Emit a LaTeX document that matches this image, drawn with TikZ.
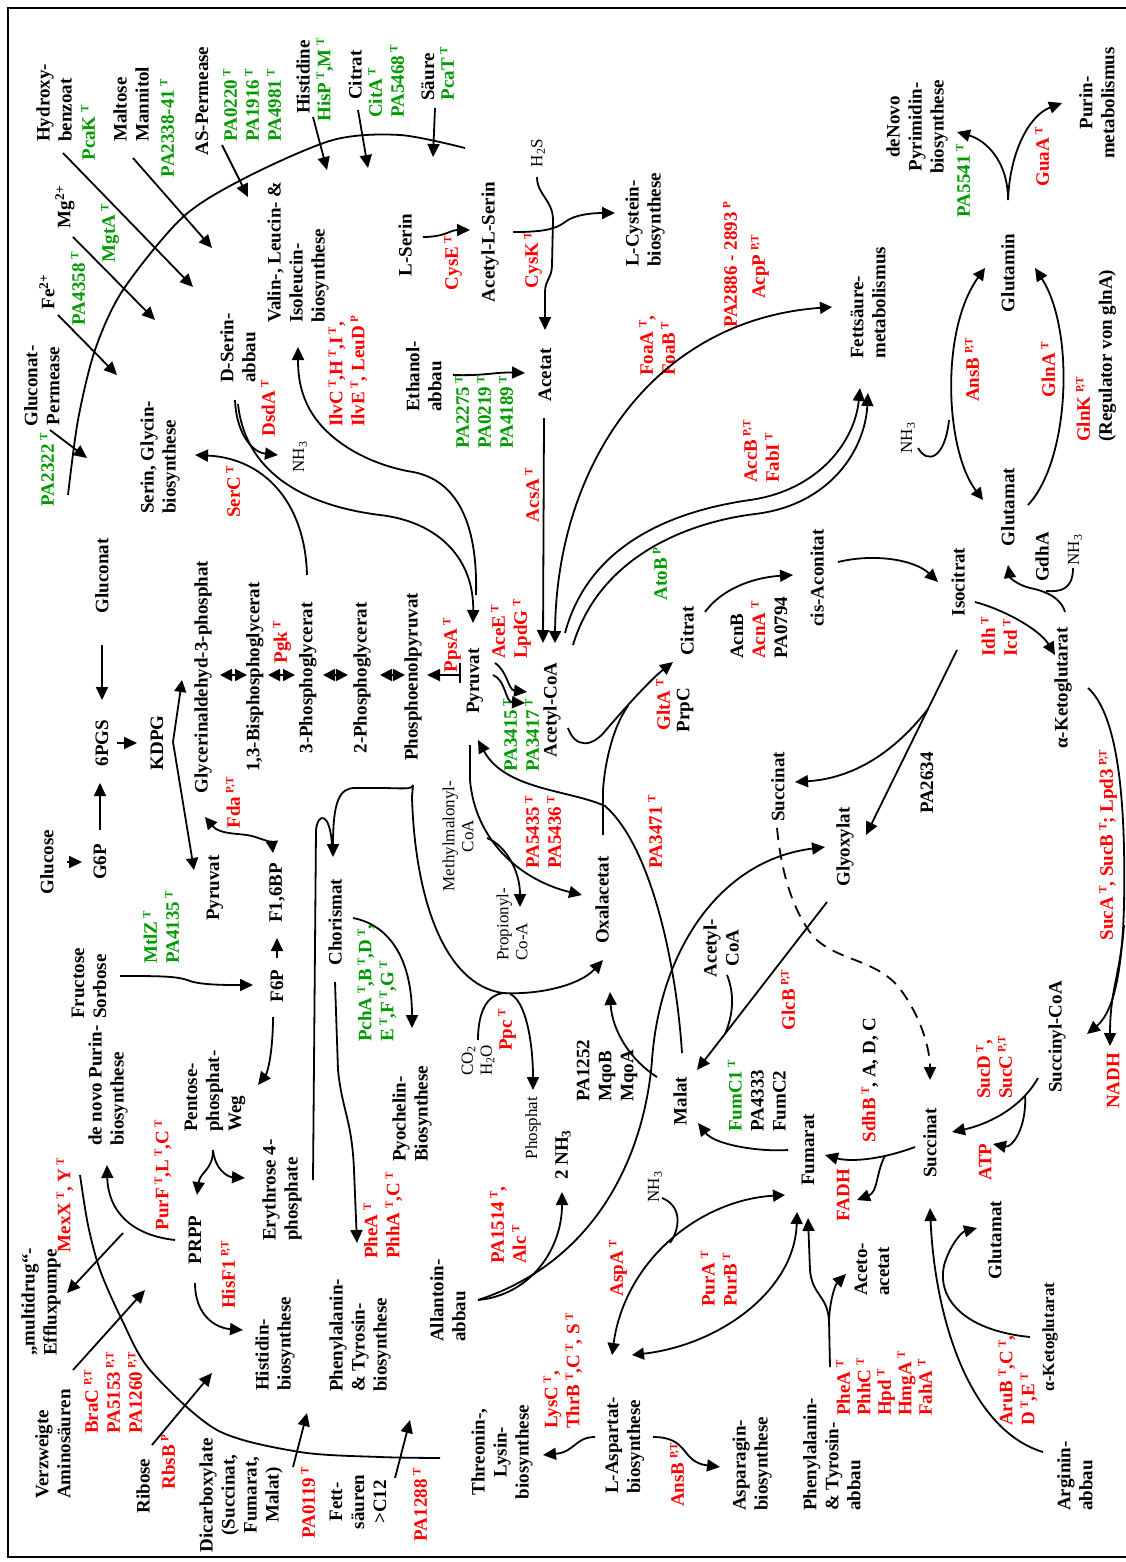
\documentclass[tikz,border=0pt]{standalone}
\usepackage{fontspec}
\setmainfont{Liberation Serif}
\usetikzlibrary{arrows.meta,calc}
\definecolor{gnrot}{RGB}{255,0,0}
\definecolor{gngruen}{RGB}{0,153,0}
\newcommand{\hochs}[1]{\kern3.5pt\raisebox{6.5pt}{\fontsize{11}{11}\selectfont #1}}

\begin{document}
\begin{tikzpicture}[x=1pt,y=-1pt,
stoff/.style={rotate=90,font=\bfseries\fontsize{19}{22}\selectfont,inner sep=1pt,align=center},
stoffl/.style={stoff,align=left,anchor=west},
enzym/.style={stoff,text=gnrot},
enzyml/.style={stoffl,text=gnrot},
transp/.style={stoff,text=gngruen},
transpl/.style={stoffl,text=gngruen},
klein/.style={rotate=90,font=\fontsize{17}{19}\selectfont,inner sep=1pt,align=center},
kleinl/.style={klein,align=left,anchor=west},
pfeil/.style={-{Triangle[length=13pt,width=12pt]},line width=1.8pt},
doppel/.style={{Triangle[length=12pt,width=12pt]}-{Triangle[length=12pt,width=12pt]},line width=1.8pt},
linie/.style={line width=1.8pt},
strich/.style={pfeil,dash pattern=on 12pt off 8pt}
]
\useasboundingbox (0,0) rectangle (1126,1562);
\draw[line width=1.6pt] (1126,8) -- (8,8) -- (8,1557) -- (1126,1557);

\draw[linie] plot[smooth] coordinates {(68,495) (78,420) (95,350) (123,290) (183,217) (247,177) (333,140) (400,135) (465,148)};
\draw[linie] plot[smooth] coordinates {(80,1175) (88,1225) (100,1270) (122,1320) (150,1370) (217,1430) (300,1452) (380,1457) (440,1458)};

\node[stoffl] (hydroxy) at (54,143) {Hydroxy-\\benzoat};
\node[transp] (pcak) at (88,133) {PcaK\hochs{T}};
\node[stoffl] (maltose) at (131,143) {Maltose\\Mannitol};
\node[transp] (pa2338) at (167,128) {PA2338-41\hochs{T}};
\node[stoff] (asperm) at (202,101) {AS-Permease};
\node[transpl] (pa0220) at (252,143) {PA0220\hochs{T}\\PA1916\hochs{T}\\PA4981\hochs{T}};
\node[stoff] (histidine) at (303,77) {Histidine};
\node[transp] (hisp) at (325,80) {HisP\hochs{T},M\hochs{T}};
\node[stoff] (citrat0) at (355,75) {Citrat};
\node[transpl] (cita) at (386,119) {CitA\hochs{T}\\PA5468\hochs{T}};
\node[stoff] (saeure) at (428,77) {Säure};
\node[transp] (pcat) at (447,74) {PcaT\hochs{T}};
\node[stoff] (mg) at (65,207) {Mg\textsuperscript{2+}};
\node[transp] (mgta) at (110,233) {MgtA\hochs{T}};
\node[stoff] (fe) at (47,292) {Fe\textsuperscript{2+}};
\node[transp] (pa4358) at (78,289) {PA4358\hochs{T}};
\node[stoff] (glcperm) at (42,386) {Gluconat-\\Permease};
\node[transp] (pa2322) at (47,470) {PA2322\hochs{T}};

\node[stoffl] (dserin) at (238,384) {D-Serin-\\abbau};
\node[enzym] (dsda) at (268,408) {DsdA\hochs{T}};
\node[stoffl] (valin) at (298,324) {Valin-, Leucin- \&\\Isoleucin-\\biosynthese};
\node[enzyml] (ilvc) at (348,428) {IlvC\hochs{T},H\hochs{T},I\hochs{T},\\IlvE\hochs{T}, LeuD\hochs{P}};
\node[stoffl] (seringly) at (160,515) {Serin, Glycin-\\biosynthese};
\node[enzym] (serc) at (233,492) {SerC\hochs{T}};
\node[klein] (nhdrei) at (300,457) {NH\textsubscript{3}};

\node[stoff] (lserin) at (405,245) {L-Serin};
\node[enzym] (cyse) at (453,263) {CysE\hochs{T}};
\node[stoff] (acserin) at (490,242) {Acetyl-L-Serin};
\node[enzym] (cysk) at (533,260) {CysK\hochs{T}};
\node[klein] (hzweis) at (538,153) {H\textsubscript{2}S};
\node[stoffl] (cystein) at (645,268) {L-Cystein-\\biosynthese};
\node[enzym] (pa2886) at (730,265) {PA2886 - 2893\hochs{P}};
\node[enzym] (acpp) at (760,267) {AcpP\hochs{P,T}};
\node[enzyml] (foaa) at (657,377) {FoaA\hochs{T},\\FoaB\hochs{T}};
\node[stoffl] (ethanol) at (424,413) {Ethanol-\\abbau};
\node[transpl] (pa2275) at (484,450) {PA2275\hochs{T}\\PA0219\hochs{T}\\PA4189\hochs{T}};
\node[stoff] (acetat) at (545,375) {Acetat};
\node[enzym] (acsa) at (532,495) {AcsA\hochs{T}};
\node[stoffl] (fett) at (868,360) {Fettsäure-\\metabolismus};
\node[enzyml] (accb) at (761,484) {AccB\hochs{P,T}\\FabI\hochs{T}};

\node[stoff] (pyrimidin) at (917,127) {deNovo\\Pyrimidin-\\biosynthese};
\node[transp] (pa5541) at (963,181) {PA5541\hochs{T}};
\node[enzym] (guaa) at (1042,157) {GuaA\hochs{T}};
\node[stoff] (purin) at (1097,103) {Purin-\\metabolismus};
\node[stoff] (glutamin) at (1008,273) {Glutamin};
\node[enzym] (ansb) at (972,370) {AnsB\hochs{P,T}};
\node[enzym] (glna) at (1048,370) {GlnA\hochs{T}};
\node[stoffl] (glnk) at (1096,443) {\textcolor{gnrot}{GlnK\hochs{P,T}}\\(Regulator von glnA)};
\node[klein] (nhdreib) at (908,438) {NH\textsubscript{3}};
\node[stoff] (glutamat) at (1008,507) {Glutamat};
\node[stoff] (gdha) at (1042,557) {GdhA};
\node[klein] (nhdreic) at (1075,550) {NH\textsubscript{3}};

\node[stoff] (gluconat) at (102,576) {Gluconat};
\node[stoff] (pgs) at (102,743) {6PGS};
\node[stoff] (kdpg) at (157,743) {KDPG};
\node[stoff] (gap) at (203,677) {Glycerinaldehyd-3-phosphat};
\node[stoff] (bpg) at (255,677) {1,3-Bisphosphoglycerat};
\node[enzym] (pgk) at (282,642) {Pgk\hochs{T}};
\node[stoff] (pg3) at (308,678) {3-Phosphoglycerat};
\node[stoff] (pg2) at (362,678) {2-Phosphoglycerat};
\node[stoff] (pep) at (413,677) {Phosphoenolpyruvat};
\node[stoff] (pyruvat) at (475,681) {Pyruvat};
\node[enzym] (ppsa) at (452,645) {PpsA\hochs{T}};
\node[enzyml] (acee) at (511,660) {AceE\hochs{T}\\LpdG\hochs{T}};
\node[transpl] (pa3415) at (521,773) {PA3415\hochs{T}\\PA3417\hochs{T}};
\node[stoff] (acetylcoa) at (552,710) {Acetyl-CoA};
\node[transp] (atob) at (660,574) {AtoB\hochs{P}};
\node[stoff] (citrat) at (687,631) {Citrat};
\node[enzym] (glta) at (663,705) {GltA\hochs{T}};
\node[stoff] (prpc) at (685,710) {PrpC};
\node[stoffl] (acnb) at (759,660) {AcnB\\\textcolor{gnrot}{AcnA\hochs{T}}\\PA0794};
\node[stoff] (aconitat) at (817,578) {cis-Aconitat};
\node[stoff] (isocitrat) at (958,582) {Isocitrat};
\node[enzyml] (idh) at (999,658) {Idh\hochs{T}\\Icd\hochs{T}};
\node[stoff] (akg) at (1063,688) {α-Ketoglutarat};
\node[stoff] (pa2634) at (927,783) {PA2634};
\node[stoff] (succinatg) at (778,787) {Succinat};
\node[stoff] (glyoxylat) at (845,847) {Glyoxylat};
\node[enzym] (sucab) at (1108,845) {SucA\hochs{T}, SucB\hochs{T}; Lpd3\hochs{P,T}};
\node[stoff] (succoa) at (1057,1037) {Succinyl-CoA};
\node[enzym] (nadh) at (1113,1081) {NADH};
\node[enzyml] (sucd) at (994,1100) {SucD\hochs{T},\\SucC\hochs{P,T}};
\node[enzym] (atp) at (985,1162) {ATP};
\node[stoff] (succinat) at (930,1143) {Succinat};
\node[stoff] (sdhb) at (870,1080) {\textcolor{gnrot}{SdhB\hochs{T}}, A, D, C};
\node[stoff] (fumarat) at (808,1150) {Fumarat};
\node[enzym] (fadh) at (843,1195) {FADH};
\node[stoffl] (fumc) at (757,1133) {\textcolor{gngruen}{FumC1\hochs{T}}\\PA4333\\FumC2};
\node[stoff] (malat) at (680,1101) {Malat};
\node[stoffl] (mqob) at (607,1103) {PA1252\\MqoB\\MqoA};
\node[enzym] (glcb) at (788,1000) {GlcB\hochs{P,T}};
\node[stoff] (acetylcoab) at (721,948) {Acetyl-\\CoA};
\node[stoff] (oxalacetat) at (602,900) {Oxalacetat};
\node[enzym] (pa3471) at (655,832) {PA3471\hochs{T}};
\node[enzyml] (pa5435) at (543,870) {PA5435\hochs{T}\\PA5436\hochs{T}};
\node[klein] (methylmal) at (458,836) {Methylmalonyl-\\CoA};
\node[kleinl] (propionyl) at (512,962) {Propionyl-\\Co-A};
\node[kleinl] (coh) at (478,1077) {CO\textsubscript{2}\\H\textsubscript{2}O};
\node[enzym] (ppc) at (507,1030) {Ppc\hochs{T}};
\node[klein] (phosphat) at (533,1128) {Phosphat};
\node[stoff] (nhzwei) at (563,1155) {2 NH\textsubscript{3}};

\node[stoff] (glucose) at (47,862) {Glucose};
\node[stoff] (gsechsp) at (100,862) {G6P};
\node[stoff] (pyruvatl) at (215,888) {Pyruvat};
\node[stoff] (fbp) at (277,893) {F1,6BP};
\node[enzym] (fda) at (233,803) {Fda\hochs{P,T}};
\node[stoff] (fsechsp) at (277,986) {F6P};
\node[stoffl] (fructose) at (89,1020) {Fructose\\Sorbose};
\node[transpl] (mtlz) at (161,965) {MtlZ\hochs{T}\\PA4135\hochs{T}};
\node[stoffl] (purinnovo) at (108,1147) {de novo Purin-\\biosynthese};
\node[stoffl] (pentose) at (215,1133) {Pentose-\\phosphat-\\Weg};
\node[stoff] (chorismat) at (335,922) {Chorismat};
\node[transpl] (pcha) at (377,1043) {PchA\hochs{T},B\hochs{T},D\hochs{T},\\E\hochs{T},F\hochs{T},G\hochs{T}};
\node[stoffl] (pyochelin) at (412,1163) {Pyochelin-\\Biosynthese};
\node[stoffl] (erythrose) at (282,1242) {Erythrose 4-\\phosphate};
\node[stoff] (prpp) at (195,1240) {PRPP};
\node[enzym] (purf) at (163,1175) {PurF\hochs{T},L\hochs{T},C\hochs{T}};
\node[enzym] (hisf) at (228,1275) {HisF1\hochs{P,T}};
\node[stoffl] (histidin) at (275,1392) {Histidin-\\biosynthese};
\node[enzyml] (phea) at (383,1260) {PheA\hochs{T}\\PhhA\hochs{T},C\hochs{T}};
\node[stoffl] (phebio) at (360,1393) {Phenylalanin-\\\& Tyrosin-\\biosynthese};

\node[stoffl] (efflux) at (41,1357) {„multidrug“-\\Effluxpumpe};
\node[enzym] (mexx) at (65,1205) {MexX\hochs{T}, Y\hochs{T}};
\node[stoffl] (verzweigt) at (53,1500) {Verzweigte\\Aminosäuren};
\node[enzyml] (brac) at (113,1435) {BraC\hochs{P,T}\\PA5153\hochs{P,T}\\PA1260\hochs{P,T}};
\node[stoff] (ribose) at (143,1486) {Ribose};
\node[enzym] (rbsb) at (168,1462) {RbsB\hochs{P}};
\node[stoff] (dicarb) at (241,1495) {Dicarboxylate\\(Succinat,\\Fumarat,\\Malat)};
\node[enzym] (pa0119) at (308,1503) {PA0119\hochs{T}};
\node[stoff] (fett2) at (358,1502) {Fett-\\säuren\\>C12};
\node[enzym] (pa1288) at (420,1505) {PA1288\hochs{T}};
\node[stoffl] (allantoin) at (448,1343) {Allantoin-\\abbau};
\node[enzyml] (pa1514) at (508,1265) {PA1514\hochs{T},\\Alc\hochs{T}};
\node[stoff] (threonin) at (502,1452) {Threonin-,\\Lysin-\\biosynthese};
\node[enzyml] (lysc) at (563,1430) {LysC\hochs{T},\\ThrB\hochs{T},C\hochs{T}, S\hochs{T}};
\node[stoffl] (aspartat) at (625,1495) {L-Aspartat-\\biosynthese};
\node[enzym] (ansbb) at (677,1475) {AnsB\hochs{P,T}};
\node[stoffl] (asparagin) at (752,1512) {Asparagin-\\biosynthese};
\node[enzym] (aspa) at (618,1268) {AspA\hochs{T}};
\node[klein] (nhdreid) at (655,1187) {NH\textsubscript{3}};
\node[enzyml] (pura) at (719,1308) {PurA\hochs{T}\\PurB\hochs{T}};
\node[stoffl] (pheabbau) at (832,1512) {Phenylalanin-\\\& Tyrosin-\\abbau};
\node[enzyml,font=\bfseries\fontsize{19}{20.5}\selectfont] (pheab) at (884,1417) {PheA\hochs{T}\\PhhC\hochs{T}\\Hpd\hochs{T}\\HmgA\hochs{T}\\FahA\hochs{T}};
\node[stoffl] (aceto) at (872,1297) {Aceto-\\acetat};
\node[stoff] (glutamatb) at (995,1240) {Glutamat};
\node[stoff,font=\bfseries\fontsize{17}{20}\selectfont] (akgb) at (1050,1337) {α-Ketoglutarat};
\node[enzyml] (arub) at (1018,1427) {AruB\hochs{T},C\hochs{T},\\D\hochs{T},E\hochs{T}};
\node[stoffl] (arginin) at (1075,1512) {Arginin-\\abbau};

\coordinate (hb-ziel) at (193,287);
\coordinate (mm-ziel) at (212,248);
\coordinate (mg-ziel) at (155,320);
\coordinate (as-ziel) at (248,197);
\coordinate (his-ziel) at (327,170);
\coordinate (cit-ziel) at (368,168);
\coordinate (sr-ziel) at (433,157);
\coordinate (fe-ziel) at (117,375);
\coordinate (gp-ziel) at (87,458);
\draw[pfeil] ($(hydroxy.west)+(9,10)$) -- (hb-ziel);
\draw[pfeil] ($(maltose.west)+(2,15)$) -- (mm-ziel);
\draw[pfeil] ($(mg)+(8,30)$) -- (mg-ziel);
\draw[pfeil] ($(asperm)+(20,44)$) -- (as-ziel);
\draw[pfeil] ($(histidine)+(10,40)$) -- (his-ziel);
\draw[pfeil] ($(citrat0)+(3,35)$) -- (cit-ziel);
\draw[pfeil] ($(saeure)+(7,31)$) -- (sr-ziel);
\draw[pfeil] ($(fe)+(11,23)$) -- (fe-ziel);
\draw[pfeil] ($(glcperm)+(8,44)$) -- (gp-ziel);

\coordinate (mex-start) at (123,1233);
\coordinate (bra-ziel) at (145,1290);
\coordinate (rbs-ziel) at (212,1373);
\coordinate (dc-ziel) at (307,1413);
\coordinate (fs-ziel) at (410,1420);
\draw[pfeil] (mex-start) -- ($(efflux.west)+(26,-64)$);
\draw[pfeil] ($(verzweigt.west)+(20,-130)$) -- (bra-ziel);
\draw[pfeil] ($(ribose)+(9,-41)$) -- (rbs-ziel);
\draw[pfeil] ($(dicarb)+(52,-28)$) -- (dc-ziel);
\draw[pfeil] ($(fett2)+(37,-24)$) -- (fs-ziel);

\draw[pfeil] ($(glucose)+(20,0)$) -- ($(gsechsp)+(-18,0)$);
\draw[pfeil] ($(gsechsp)+(0,-32)$) -- ($(pgs)+(-2,40)$);
\draw[pfeil] ($(gluconat)+(0,69)$) -- ($(pgs)+(0,-43)$);
\draw[pfeil] ($(pgs)+(15,0)$) -- ($(kdpg)+(-20,0)$);
\coordinate (kdpg-knick) at ($(kdpg)+(16,-1)$);
\draw[doppel] ($(gap)+(-21,3)$) -- (kdpg-knick) -- ($(pyruvatl)+(-21,-18)$);
\draw[doppel] ($(gap)+(17,-2)$) -- ($(bpg)+(-8,-2)$);
\draw[doppel] ($(bpg)+(13,-2)$) -- ($(pg3)+(-13,-3)$);
\draw[doppel] ($(pg3)+(15,-3)$) -- ($(pg2)+(-14,-3)$);
\draw[doppel] ($(pg2)+(18,-3)$) -- ($(pep)+(-8,-2)$);
\draw[linie] ($(pyruvat)+(-15,-18)$) -- ($(pyruvat)+(-15,2)$);
\draw[pfeil] ($(pyruvat)+(-15,-6)$) -- ($(pep)+(14,-2)$);
\draw[doppel] ($(gap)+(2,140)$) .. controls (220,835) and (240,833) .. (252,836) .. controls (262,839) and (272,843) .. ($(fbp)+(-4,-40)$);
\draw[pfeil] ($(fsechsp)+(0,-28)$) -- ($(fbp)+(0,45)$);
\draw[pfeil] ($(fructose.west)+(31,-44)$) .. controls (160,976) and (178,976) .. (190,981) .. controls (202,985) and (225,985) .. ($(fsechsp)+(-24,-1)$);
\draw[pfeil] ($(fsechsp)+(-4,31)$) .. controls (273,1050) and (268,1072) .. ($(pentose.west)+(43,-48)$);
\coordinate (pp-knoten) at ($(pentose.west)+(-2,17)$);
\draw[pfeil] (pp-knoten) .. controls (213,1170) and (200,1172) .. ($(prpp)+(2,-45)$);
\draw[pfeil] (pp-knoten) .. controls (215,1170) and (228,1177) .. ($(erythrose.west)+(-37,-64)$);
\draw[pfeil] ($(prpp)+(-20,0)$) .. controls (130,1235) and (108,1210) .. ($(purinnovo.west)+(-1,18)$);
\draw[pfeil] ($(prpp)+(0,43)$) .. controls (195,1315) and (215,1328) .. ($(histidin.west)+(-32,-62)$);

\coordinate (pep-knoten) at ($(pep)+(0,108)$);
\draw[pfeil] (pep-knoten) .. controls (413,790) and (400,788) .. (380,788) -- (355,788) .. controls (340,788) and (333,800) .. ($(chorismat)+(-2,-65)$);
\draw[linie] ($(erythrose.west)+(31,-62)$) -- (316,830) .. controls (318,812) and (330,812) .. (332,845);
\coordinate (ppc-knoten) at (503,993);
\draw[linie] (pep-knoten) -- (412,797) .. controls (415,900) and (445,985) .. (ppc-knoten);
\draw[pfeil] (ppc-knoten) .. controls (540,995) and (580,985) .. ($(oxalacetat)+(1,60)$);
\draw[linie] ($(coh.west)+(0,-37)$) .. controls (478,1010) and (488,995) .. (ppc-knoten);
\draw[pfeil] ($(ppc-knoten)+(7,1)$) .. controls (525,1000) and (533,1040) .. ($(phosphat)+(0,-38)$);
\draw[pfeil] ($(chorismat)+(18,-4)$) .. controls (390,925) and (412,960) .. ($(pyochelin.west)+(0,-135)$);
\draw[pfeil] ($(chorismat)+(0,60)$) -- (338,1070) .. controls (342,1110) and (352,1120) .. (354,1170) -- ($(phebio.west)+(-3,-150)$);

\draw[pfeil] ($(dserin.west)+(-3,16)$) .. controls (236,430) and (250,452) .. ($(nhdrei)+(-22,-2)$);
\draw[pfeil] ($(dserin.west)+(0,20)$) .. controls (245,470) and (300,505) .. (380,515) .. controls (440,522) and (474,560) .. ($(pyruvat)+(-2,-58)$);
\coordinate (pyr-oben) at ($(pyruvat)+(1,-86)$);
\draw[pfeil] (pyr-oben) .. controls (478,520) and (455,480) .. (413,472) .. controls (375,466) and (330,445) .. (310,410) .. controls (300,392) and (298,375) .. ($(valin.west)+(0,23)$);
\draw[pfeil] ($(pg3)+(-1,-103)$) .. controls (305,500) and (262,458) .. ($(seringly.west)+(35,-60)$);

\draw[pfeil] ($(lserin)+(18,-8)$) .. controls (445,237) and (450,230) .. ($(acserin)+(-20,-12)$);
\draw[pfeil] ($(acserin)+(23,-10)$) .. controls (540,232) and (555,230) .. (565,222) .. controls (575,214) and (595,213) .. ($(cystein.west)+(-30,-55)$);
\draw[pfeil] ($(hzweis)+(-1,24)$) .. controls (537,195) and (553,200) .. (553,220) -- (552,265) .. controls (552,278) and (545,280) .. (545,292) -- ($(acetat)+(0,-45)$);
\draw[pfeil] ($(ethanol.west)+(29,-38)$) .. controls (485,376) and (495,372) .. ($(acetat)+(-20,-2)$);
\draw[pfeil] ($(acetat)+(-1,43)$) -- ($(acetylcoa)+(-9,-67)$);
\draw[doppel] ($(acetylcoa)+(3,-67)$) .. controls (556,470) and (650,320) .. ($(fett.west)+(-36,-53)$);
\draw[pfeil] ($(acetylcoa)+(13,-77)$) .. controls (590,540) and (680,510) .. (750,500) .. controls (820,490) and (855,440) .. ($(fett.west)+(-8,28)$);
\draw[pfeil] ($(acetylcoa)+(21,-65)$) .. controls (600,555) and (690,522) .. (755,514) .. controls (830,505) and (865,450) .. ($(fett.west)+(0,33)$);
\draw[pfeil] ($(pyruvat)+(20,-18)$) .. controls (508,672) and (508,690) .. ($(acetylcoa)+(-25,-18)$);
\draw[pfeil] ($(pyruvat)+(18,-6)$) .. controls (506,680) and (505,702) .. ($(acetylcoa)+(-27,-7)$);

\coordinate (cit-knoten) at (628,706);
\draw[pfeil] ($(acetylcoa)+(16,18)$) .. controls (575,748) and (592,748) .. (606,730) .. controls (625,708) and (650,680) .. ($(citrat)+(-14,31)$);
\draw[linie] ($(oxalacetat)+(1,-65)$) -- (603,790) .. controls (605,760) and (614,725) .. (cit-knoten);
\draw[pfeil] ($(citrat)+(18,-19)$) .. controls (725,585) and (760,577) .. ($(aconitat)+(-24,-3)$);
\draw[pfeil] ($(aconitat)+(21,-16)$) .. controls (875,553) and (915,560) .. ($(isocitrat)+(-20,0)$);
\draw[pfeil] ($(isocitrat)+(17,20)$) .. controls (1005,610) and (1040,630) .. ($(akg)+(-8,-33)$);
\draw[pfeil] ($(isocitrat)+(-1,68)$) -- ($(glyoxylat)+(21,-12)$);
\coordinate (ic-knoten) at (928,709);
\draw[pfeil] (ic-knoten) .. controls (900,745) and (860,778) .. ($(succinatg)+(17,-5)$);
\draw[strich] ($(succinatg)+(-1,41)$) .. controls (782,880) and (795,912) .. (812,935) .. controls (835,962) and (880,958) .. (903,993) .. controls (922,1020) and (930,1050) .. ($(succinat)+(0,-63)$);

\coordinate (suc-knoten) at (1124,905);
\draw[linie] ($(akg)+(25,0)$) .. controls (1118,715) and (1126,800) .. (suc-knoten);
\draw[pfeil] (suc-knoten) .. controls (1122,985) and (1110,1015) .. ($(succoa)+(30,-3)$);
\draw[pfeil] ($(suc-knoten)+(0,20)$) .. controls (1120,975) and (1110,990) .. ($(nadh)+(-3,-35)$);
\coordinate (sc-knoten) at ($(succoa)+(-32,58)$);
\draw[pfeil] ($(succoa)+(-19,41)$) .. controls (1020,1110) and (985,1125) .. ($(succinat)+(22,-11)$);
\draw[pfeil] (sc-knoten) .. controls (1027,1128) and (1012,1148) .. ($(atp)+(8,-18)$);
\coordinate (sf-knoten) at (885,1156);
\draw[pfeil] ($(succinat)+(-15,4)$) .. controls (880,1160) and (850,1162) .. ($(fumarat)+(17,5)$);
\draw[pfeil] (sf-knoten) .. controls (876,1172) and (878,1192) .. ($(fadh)+(14,5)$);
\draw[pfeil] ($(fumarat)+(-20,0)$) .. controls (760,1152) and (715,1145) .. ($(malat)+(18,22)$);
\draw[pfeil] ($(malat)+(-23,-24)$) .. controls (630,1060) and (612,1030) .. ($(oxalacetat)+(8,92)$);
\draw[pfeil] ($(glyoxylat)+(-18,55)$) -- ($(malat)+(17,-31)$);
\coordinate (gm-knoten) at (725,1034);
\draw[linie] ($(acetylcoab)+(6,27)$) .. controls (735,995) and (733,1015) .. (gm-knoten);
\draw[pfeil] ($(malat)+(2,-48)$) .. controls (676,960) and (650,845) .. (605,806) .. controls (570,790) and (505,790) .. ($(pyruvat)+(3,59)$);
\draw[pfeil] ($(pyruvat)+(-5,64)$) -- (470,780) .. controls (475,840) and (520,880) .. ($(oxalacetat)+(-20,-5)$);
\draw[pfeil] ($(methylmal)+(29,2)$) .. controls (505,845) and (520,870) .. ($(propionyl.west)+(8,-55)$);

\coordinate (al-knoten) at ($(allantoin.west)+(30,-43)$);
\draw[pfeil] (al-knoten) .. controls (530,1295) and (562,1250) .. ($(nhzwei)+(-1,37)$);
\draw[pfeil] (al-knoten) .. controls (600,1260) and (645,1150) .. (652,1060) .. controls (660,950) and (720,860) .. ($(glyoxylat)+(-20,0)$);
\draw[doppel] ($(fumarat)+(-23,45)$) .. controls (700,1200) and (625,1260) .. ($(aspartat.west)+(-13,-140)$);
\draw[linie] ($(nhdreid)+(7,11)$) .. controls (680,1205) and (682,1225) .. (670,1243);
\draw[doppel] ($(aspartat.west)+(7,-140)$) .. controls (720,1345) and (795,1290) .. ($(fumarat)+(-11,62)$);
\coordinate (pa-knoten) at (829,1320);
\draw[pfeil] ($(pheabbau.west)+(-2,-145)$) -- (pa-knoten) .. controls (827,1295) and (812,1295) .. (810,1270) -- ($(fumarat)+(0,68)$);
\draw[pfeil] (pa-knoten) .. controls (830,1300) and (835,1285) .. ($(aceto.west)+(-26,-23)$);
\draw[pfeil] ($(arginin.west)+(-32,-60)$) .. controls (970,1430) and (935,1320) .. ($(succinat)+(0,65)$);
\draw[pfeil] ($(akgb)+(-20,0)$) .. controls (960,1330) and (935,1295) .. (945,1262) .. controls (952,1242) and (962,1232) .. ($(glutamatb)+(-18,-12)$);
\draw[pfeil] ($(aspartat.west)+(-30,-58)$) .. controls (575,1437) and (575,1452) .. ($(threonin)+(41,3)$);
\draw[pfeil] ($(aspartat.west)+(28,-58)$) .. controls (690,1437) and (680,1462) .. ($(asparagin.west)+(-32,-45)$);

\coordinate (gn-knoten) at ($(glutamin)+(0,-73)$);
\draw[pfeil] (gn-knoten) .. controls (1008,160) and (985,140) .. ($(pyrimidin)+(40,5)$);
\draw[pfeil] (gn-knoten) .. controls (1010,150) and (1030,115) .. ($(purin)+(-35,0)$);
\draw[doppel] ($(glutamat)+(-25,-7)$) .. controls (945,450) and (940,330) .. ($(glutamin)+(-23,-5)$);
\draw[linie] ($(nhdreib)+(10,10)$) .. controls (928,465) and (945,458) .. (949,420);
\draw[pfeil] ($(glutamat)+(20,-2)$) .. controls (1070,460) and (1075,330) .. ($(glutamin)+(27,-5)$);
\draw[pfeil] ($(akg)+(2,-76)$) .. controls (1060,595) and (1040,590) .. (1030,588) .. controls (1018,585) and (1010,578) .. ($(glutamat)+(0,58)$);
\draw[linie] ($(nhdreic)+(-2,18)$) .. controls (1073,590) and (1060,592) .. (1046,591);
\end{tikzpicture}
\end{document}
